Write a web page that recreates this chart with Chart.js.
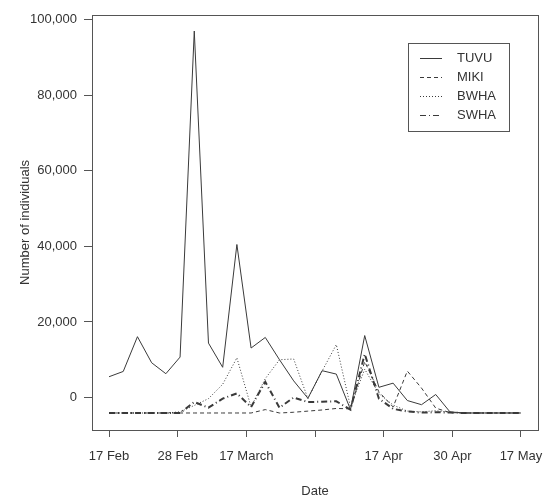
<!DOCTYPE html>
<html lang="en">
<head>
  <meta charset="UTF-8">
  <title>Number of individuals by date</title>
  <script src="https://cdn.jsdelivr.net/npm/chart.js"></script>
  <style>
    body {
      margin: 0;
      padding: 0;
      background-color: #ffffff;
    }
    #chart-container {
      width: 555px;
      height: 500px;
    }
  </style>
</head>
<body>
  <div id="chart-container">
    <canvas id="countChart" width="555" height="500"></canvas>
  </div>

  <script>
    // survey counts, one value per survey (30 surveys, evenly spaced)
    const tuvu = [5500, 6900, 16100, 9200, 6300, 10700, 97000, 14400, 8000, 40500,
                  13100, 15900, 10000, 4400, -200, 7100, 6200, -3200, 16400, 2700,
                  3800, -800, -1900, 800, -3800, -4100, -4100, -4100, -4100, -4100];
    const miki = [-4100, -4100, -4100, -4100, -4100, -4100, -4100, -4100, -4100, -4100,
                  -4100, -3200, -4100, -3900, -3600, -3300, -2900, -3000, 9500, 1500,
                  -2500, 7000, 2500, -2800, -4000, -4100, -4100, -4100, -4100, -4100];
    const bwha = [-4100, -4100, -4100, -4100, -4100, -3800, -2100, -300, 3500, 10500,
                  -2500, 5000, 10000, 10200, -300, 7000, 14000, -2500, 7500, 1000,
                  -2000, -3600, -3800, -3500, -3900, -4100, -4100, -4100, -4100, -4100];
    const swha = [-4100, -4100, -4100, -4100, -4100, -4100, -1200, -2700, -300, 1100,
                  -2500, 4150, -2700, 0, -1200, -1100, -1000, -3200, 11500, -300,
                  -3000, -3700, -4000, -3900, -4000, -4100, -4100, -4100, -4100, -4100];

    const seriesNames = ['TUVU', 'MIKI', 'BWHA', 'SWHA'];
    const xTickLabels = ['17 Feb', '28 Feb', '17 March', '', '17 Apr', '30 Apr', '17 May'];
    const yTickValues = [0, 20000, 40000, 60000, 80000, 100000];

    const lineColor = '#3a3a3a';
    const textColor = '#333333';
    const font = { family: '"Liberation Sans", Arial, sans-serif', size: 13 };

    const lastIndex = tuvu.length - 1;
    // x ticks spread evenly over the survey range
    const xTickValues = xTickLabels.map((_, i) => i * lastIndex / (xTickLabels.length - 1));

    function toPoints(values) {
      return values.map((v, i) => ({ x: i, y: v }));
    }

    const styles = [
      { dash: [], width: 1 },
      { dash: [4, 3], width: 1 },
      { dash: [1, 2], width: 1 },
      { dash: [6, 3, 1, 3], width: 2 }
    ];

    // box round the plot + legend inside it
    const frameAndLegend = {
      id: 'frameAndLegend',
      afterDraw(chart) {
        const { ctx, chartArea } = chart;
        ctx.save();
        ctx.strokeStyle = '#555';
        ctx.lineWidth = 1;
        ctx.setLineDash([]);
        ctx.strokeRect(Math.round(chartArea.left) + 0.5, Math.round(chartArea.top) + 0.5,
          Math.round(chartArea.right - chartArea.left), Math.round(chartArea.bottom - chartArea.top));

        // legend
        const bx = 408, by = 43, bw = 101, bh = 88;
        ctx.fillStyle = '#fff';
        ctx.fillRect(bx, by, bw, bh);
        ctx.strokeRect(bx + 0.5, by + 0.5, bw, bh);
        ctx.font = font.size + 'px ' + font.family;
        ctx.textBaseline = 'middle';
        ctx.textAlign = 'left';
        seriesNames.forEach((name, i) => {
          const y = Math.round(58 + i * 19) + 0.5;
          ctx.strokeStyle = lineColor;
          ctx.lineWidth = 1;
          ctx.setLineDash(styles[i].dash);
          ctx.beginPath();
          ctx.moveTo(420, y);
          ctx.lineTo(442, y);
          ctx.stroke();
          ctx.fillStyle = textColor;
          ctx.fillText(name, 457, y);
        });
        ctx.restore();
      }
    };

    const datasets = [tuvu, miki, bwha, swha].map((values, i) => ({
      label: seriesNames[i],
      data: toPoints(values),
      borderColor: lineColor,
      borderWidth: styles[i].width,
      borderDash: styles[i].dash,
      pointRadius: 0,
      tension: 0,
      fill: false
    }));

    new Chart(document.getElementById('countChart').getContext('2d'), {
      type: 'line',
      data: { datasets: datasets },
      options: {
        responsive: false,
        animation: false,
        devicePixelRatio: 1,
        layout: { padding: { left: 0, right: 17, top: 8, bottom: 0 } },
        plugins: {
          legend: { display: false },
          tooltip: { enabled: false }
        },
        scales: {
          x: {
            type: 'linear',
            min: -1.2,
            max: lastIndex + 1.2,
            afterBuildTicks(scale) {
              scale.ticks = xTickValues.map(v => ({ value: v }));
            },
            afterFit(scale) { scale.height = 70; },
            grid: { drawOnChartArea: false, drawTicks: true, tickLength: 7, color: '#555' },
            border: { display: false },
            ticks: {
              autoSkip: false,
              maxRotation: 0,
              padding: 12,
              color: textColor,
              font: font,
              callback: (value, index) => xTickLabels[index]
            },
            title: { display: true, text: 'Date', color: textColor, font: font, padding: { bottom: 1 } }
          },
          y: {
            min: -8600,
            max: 101300,
            afterBuildTicks(scale) {
              scale.ticks = yTickValues.map(v => ({ value: v }));
            },
            afterFit(scale) { scale.width = 92; },
            grid: { drawOnChartArea: false, drawTicks: true, tickLength: 8, color: '#555' },
            border: { display: false },
            ticks: {
              padding: 7,
              color: textColor,
              font: font,
              callback: value => value.toLocaleString('en-US')
            },
            title: { display: true, text: 'Number of individuals', color: textColor, font: font, padding: { top: 18 } }
          }
        }
      },
      plugins: [frameAndLegend]
    });
  </script>
</body>
</html>
